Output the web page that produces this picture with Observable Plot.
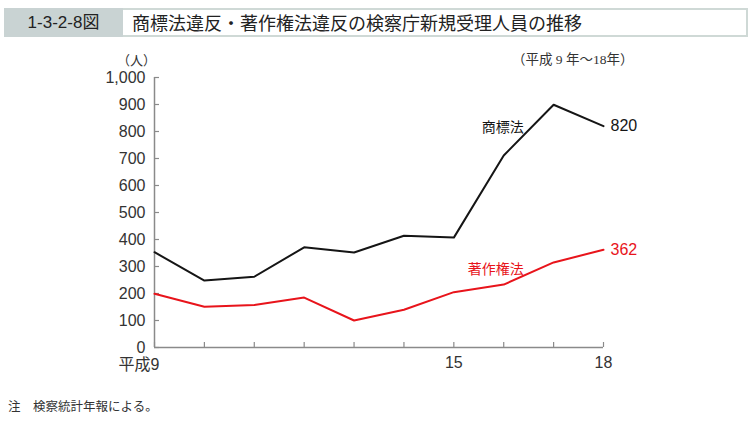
<!DOCTYPE html>
<html><head><meta charset="utf-8">
<script src="https://cdn.jsdelivr.net/npm/d3@7"></script>
<script src="https://cdn.jsdelivr.net/npm/@observablehq/plot@0.6"></script>
<style>
body{margin:0;background:#fff;width:755px;height:422px;position:relative;overflow:hidden;font-family:"Noto Sans CJK JP","Liberation Sans",sans-serif;}
#numbox{position:absolute;left:4px;top:8px;width:119px;height:29px;background:#c9d3d3;color:#222;font-family:"Liberation Sans Narrow","Liberation Sans","Noto Sans CJK JP",sans-serif;font-size:17px;line-height:29px;text-align:center;}
#titlebox{position:absolute;left:123px;top:8px;width:625px;height:29px;box-sizing:border-box;border:2px solid #cfd9d6;border-left:none;background:#fff;color:#222;font-size:18px;line-height:25px;padding-left:9px;}
#unit{position:absolute;left:117px;top:50px;font-size:13px;color:#333;}
#period{position:absolute;left:512px;top:48px;font-size:13.5px;color:#333;font-family:"Liberation Serif","Noto Sans CJK JP",serif;}
#chart{position:absolute;left:0;top:40px;}
#note{position:absolute;left:8px;top:396px;font-size:12.5px;color:#333;font-family:"Liberation Serif","Noto Sans CJK JP",serif;}
</style></head>
<body>
<div id="numbox">1-3-2-8図</div>
<div id="titlebox">商標法違反・著作権法違反の検察庁新規受理人員の推移</div>
<div id="unit">（人）</div>
<div id="period">（平成 9 年～18年）</div>
<div id="chart"></div>
<div id="note">注　検察統計年報による。</div>
<script>
const years = [9, 10, 11, 12, 13, 14, 15, 16, 17, 18];
const trademark = [353, 248, 262, 371, 352, 414, 407, 711, 899, 820];
const copyright = [199, 151, 157, 185, 100, 140, 205, 233, 315, 362];
const seriesNames = ["商標法", "著作権法"];
const seriesColors = ["#151515", "#e8141b"];
const yTicks = [0, 100, 200, 300, 400, 500, 600, 700, 800, 900, 1000];
const xLabelTicks = [15, 18];
const xFirstLabel = "平成9";
// label anchor positions (data units) for series names
const nameLabelX = [16.4, 16.4];
const nameLabelY = [815, 289];

const rows = [];
years.forEach((yr, i) => {
  rows.push({year: yr, value: trademark[i], series: seriesNames[0]});
  rows.push({year: yr, value: copyright[i], series: seriesNames[1]});
});
const ends = [
  {year: years[years.length-1], value: trademark[trademark.length-1], series: seriesNames[0]},
  {year: years[years.length-1], value: copyright[copyright.length-1], series: seriesNames[1]}
];
const names = seriesNames.map((s, i) => ({series: s, x: nameLabelX[i], y: nameLabelY[i]}));

const axisColor = "#8a8a8a";
const chart = Plot.plot({
  width: 755,
  height: 347,
  marginTop: 37,
  marginBottom: 40,
  marginLeft: 154,
  marginRight: 152,
  x: {domain: [9, 18]},
  y: {domain: [0, 1000]},
  color: {domain: seriesNames, range: seriesColors},
  style: {fontFamily: "'Liberation Sans','Noto Sans CJK JP',sans-serif", fontSize: "16px", color: "#333", background: "transparent"},
  marks: [
    Plot.axisY({ticks: yTicks, anchor: "left", tickSize: 0, tickPadding: 9, tickFormat: d3.format(","), label: null, fontSize: 16, fill: "#333"}),
    Plot.axisY({ticks: yTicks, anchor: "left", tickSize: 5, dx: 5, fill: "none", label: null, stroke: axisColor, strokeWidth: 1.2}),
    Plot.axisX({ticks: years, anchor: "bottom", tickSize: 5, dy: -5, fill: "none", label: null, stroke: axisColor, strokeWidth: 1.2}),
    Plot.axisX({ticks: xLabelTicks, anchor: "bottom", tickSize: 0, tickPadding: 9, tickFormat: d => String(d), label: null, fontSize: 16, fill: "#333"}),
    Plot.axisX({ticks: [years[0]], anchor: "bottom", tickSize: 0, tickPadding: 11, tickFormat: () => xFirstLabel, label: null, fontSize: 16, fill: "#333", textAnchor: "end", dx: 5}),
    Plot.ruleX([years[0]], {stroke: axisColor, strokeWidth: 1.5}),
    Plot.ruleY([0], {stroke: axisColor, strokeWidth: 1.5}),
    Plot.line(rows, {x: "year", y: "value", z: "series", stroke: "series", strokeWidth: 2}),
    Plot.text(ends, {x: "year", y: "value", text: d => String(d.value), fill: "series", textAnchor: "start", dx: 7, fontSize: 16}),
    Plot.text(names, {x: "x", y: "y", text: "series", fill: "series", textAnchor: "end", fontSize: 14, fontFamily: "'Noto Sans CJK JP',sans-serif"})
  ]
});
document.getElementById("chart").appendChild(chart);
</script>
</body></html>
